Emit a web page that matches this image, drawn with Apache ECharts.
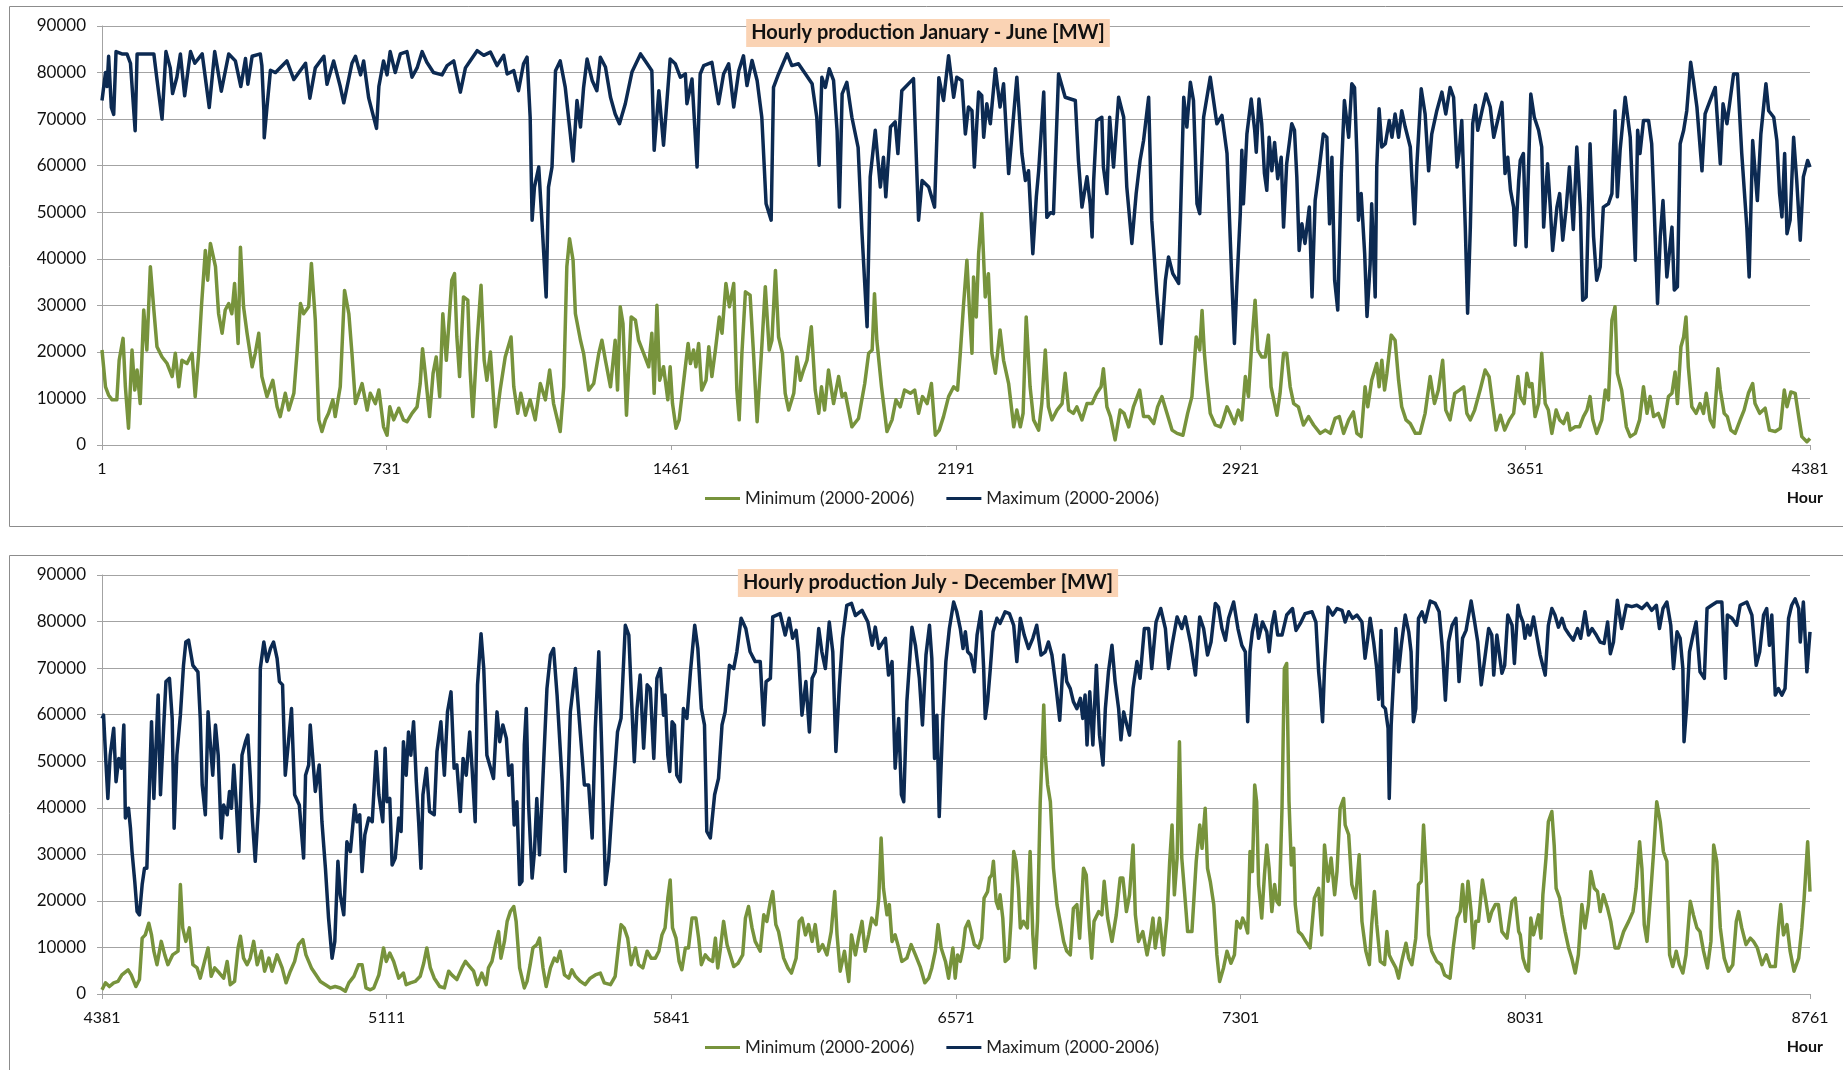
<!DOCTYPE html>
<html>
<head>
<meta charset="utf-8">
<script src="https://cdn.jsdelivr.net/npm/echarts@6/dist/echarts.min.js"></script>
<style>
html, body { margin: 0; padding: 0; background: #fff; }
#chart { width: 1843px; height: 1070px; }
</style>
</head>
<body>
<div id="chart"></div>
<script>
// Hourly production envelope 2000-2006, points as [hour of year, MW]

const minJanJun = [[1,20400],[10,12500],[18,10700],[27,9700],[39,9700],[45,18200],[55,22900],[61,12500],[69,3600],[78,20400],[85,11800],[91,16100],[99,8900],[108,29000],[116,20400],[125,38300],[134,29000],[142,21100],[155,18900],[168,17500],[181,14700],[189,19700],[198,12500],[206,18200],[219,17500],[232,19700],[240,10400],[249,19700],[256,29700],[266,41800],[272,35400],[279,43300],[292,38300],[300,28200],[309,24000],[317,29000],[326,30400],[334,28200],[341,34700],[350,21800],[356,42500],[364,29700],[373,24000],[386,16800],[394,19700],[403,24000],[411,14700],[424,10400],[439,13900],[450,8200],[458,6100],[471,11100],[480,7500],[493,11100],[501,19700],[510,30400],[518,28200],[531,29700],[538,39000],[548,26800],[557,5400],[565,2900],[574,5400],[582,6800],[593,9700],[599,6100],[612,12500],[623,33200],[634,28200],[642,19700],[651,8900],[668,13200],[681,7500],[689,11100],[702,8900],[711,11800],
[723,3900],[732,2100],[739,8200],[749,5400],[762,7900],[774,5400],[783,5000],[796,6800],[809,8200],[817,13200],[823,20700],[830,15400],[841,6100],[850,15400],[858,18900],[867,10400],[875,28200],[884,18200],[890,25400],[898,35400],[905,36800],[911,23200],[918,14700],[928,31800],[939,31100],[945,16100],[952,6100],[963,22500],[973,34300],[981,18200],[988,13900],[997,20000],[1010,3900],[1022,11800],[1035,18900],[1050,23200],[1057,12500],[1067,6800],[1075,11100],[1087,6400],[1099,9700],[1112,5400],[1125,13200],[1138,9700],[1149,16100],[1159,8900],[1176,2900],[1185,12500],[1193,38300],[1200,44300],[1209,39700],[1215,28200],[1228,22500],[1236,19700],[1249,11800],[1262,13200],[1275,19700],[1283,22500],[1292,18200],[1305,12500],[1317,22500],[1323,11800],[1330,29700],[1337,26100],[1346,6400],[1358,27500],[1369,26800],[1377,22500],[1390,19700],[1403,16800],[1411,24000],[1417,11100],[1424,30000],[1431,13900],[1441,16800],
[1452,9700],[1458,16800],[1464,8900],[1473,3600],[1481,5400],[1488,10400],[1495,15400],[1504,21800],[1510,17500],[1518,20400],[1524,16800],[1531,21800],[1539,11800],[1550,13900],[1557,21100],[1565,14700],[1574,20400],[1584,27500],[1591,24000],[1601,34700],[1610,29700],[1621,34700],[1629,11800],[1635,5400],[1642,19700],[1651,32900],[1663,32200],[1672,19300],[1681,5000],[1693,21100],[1702,34000],[1712,20400],[1719,22500],[1728,37500],[1736,23200],[1746,19700],[1753,11100],[1762,7500],[1775,11100],[1783,18900],[1792,13900],[1800,16100],[1809,18200],[1820,25400],[1830,11800],[1839,6800],[1846,12500],[1854,7500],[1864,16100],[1877,8900],[1890,14700],[1899,10400],[1907,11100],[1924,3900],[1941,5700],[1957,13200],[1967,19700],[1976,20400],[1982,32500],[1988,22500],[2000,12500],[2014,2900],[2027,5400],[2037,9700],[2048,8200],[2059,11800],[2074,11100],[2085,11800],[2095,6800],[2105,10400],[2117,8900],[2128,13200],[2138,2100],[2148,3200],[2159,6100],[2172,10400],
[2185,12500],[2195,11800],[2202,19700],[2210,29700],[2219,39700],[2226,28200],[2232,19700],[2236,36100],[2243,27500],[2249,41100],[2257,49700],[2266,31800],[2274,36800],[2283,19700],[2292,15400],[2304,24700],[2313,18200],[2326,13200],[2339,3900],[2347,7500],[2356,3900],[2363,6800],[2371,27500],[2381,12500],[2390,5400],[2403,3200],[2411,8900],[2420,20400],[2428,8200],[2437,5400],[2450,7500],[2463,8900],[2471,15400],[2480,7500],[2492,6800],[2501,8200],[2514,5400],[2527,8900],[2540,8900],[2552,11100],[2563,12500],[2569,16400],[2578,8200],[2587,6100],[2599,1100],[2612,7500],[2622,6800],[2634,3900],[2646,8200],[2662,11800],[2672,6100],[2685,6100],[2698,4600],[2708,8200],[2719,10400],[2732,6800],[2745,3200],[2758,2500],[2773,2100],[2785,6800],[2796,10400],[2807,23200],[2816,20400],[2822,28900],[2828,19700],[2834,13900],[2843,6800],[2856,4300],[2869,3900],[2876,5400],[2886,8200],[2894,6800],[2905,4600],
[2915,7500],[2924,5400],[2933,14700],[2941,10400],[2950,22500],[2958,31100],[2965,20400],[2975,18900],[2984,18900],[2992,23600],[2999,12500],[3014,6400],[3022,11100],[3031,19700],[3039,19700],[3048,12500],[3057,8900],[3069,8200],[3082,4300],[3095,6100],[3108,4300],[3125,2500],[3138,3200],[3151,2500],[3163,5700],[3174,6100],[3185,2500],[3198,5400],[3210,7100],[3219,2500],[3230,1800],[3240,12500],[3247,8200],[3257,13900],[3270,17500],[3276,12500],[3283,18200],[3290,11800],[3296,15400],[3307,23600],[3317,22500],[3326,13900],[3334,8200],[3345,5400],[3356,4600],[3369,2500],[3381,2500],[3394,6800],[3407,14700],[3418,8900],[3428,11800],[3439,18200],[3447,7500],[3458,5400],[3470,11100],[3482,11800],[3493,12500],[3501,6800],[3510,5400],[3521,7500],[3535,11800],[3548,16100],[3558,14700],[3567,8900],[3576,3200],[3587,6400],[3598,3200],[3610,5400],[3621,6800],[3632,14700],
[3638,10400],[3648,8900],[3655,15400],[3662,12500],[3668,13200],[3676,6100],[3685,8900],[3693,19700],[3702,8900],[3710,7500],[3719,2500],[3730,7500],[3739,5400],[3749,4600],[3759,6800],[3766,3200],[3779,3900],[3790,3900],[3800,6100],[3809,7500],[3817,10400],[3824,5400],[3834,2500],[3847,5400],[3856,11800],[3864,9700],[3873,26800],[3881,29700],[3887,15400],[3898,11800],[3910,3900],[3920,1800],[3933,2500],[3944,5400],[3954,12500],[3963,6800],[3971,10400],[3980,6100],[3992,6800],[4005,3900],[4018,10400],[4027,11100],[4035,15700],[4041,8900],[4050,21100],[4057,23200],[4063,27500],[4069,16800],[4078,8200],[4089,6800],[4099,8900],[4108,6800],[4115,11100],[4125,5400],[4134,3900],[4145,16400],[4151,11800],[4161,6800],[4169,6100],[4178,3200],[4189,2500],[4202,5400],[4212,7500],[4223,11100],[4234,13200],[4240,8900],[4252,6800],[4266,7900],[4277,3200],[4292,2900],[4305,3600],[4315,11800],[4322,8200],[4332,11400],[4343,11100],[4352,6100],[4360,1800],[4373,700],[4381,1400]];

const maxJanJun = [[1,74000],[10,80000],[14,77000],[18,83500],[25,72500],[31,71000],[37,84500],[52,84000],[65,84000],[74,82000],[86,67500],[91,84000],[121,84000],[134,84000],[142,78500],[155,70000],[165,84500],[176,81000],[182,75500],[193,79000],[202,84000],[213,75000],[228,84500],[239,82000],[258,84000],[276,72500],[290,84500],[307,76000],[326,84000],[343,82500],[357,77000],[369,83000],[375,77500],[386,83500],[407,84000],[411,81500],[416,72000],[417,66000],[424,72500],[433,80500],[446,80000],[475,82500],[493,78500],[523,82000],[534,74500],[548,81000],[570,83500],[578,77500],[595,82500],[612,77000],[621,73500],[642,82000],[651,83500],[664,79500],[672,82500],[685,74500],[705,68000],[711,77000],
[723,82500],[732,79500],[740,84500],[753,80000],[766,84000],[783,84500],[796,79000],[809,81000],[822,84500],[834,82200],[851,80000],[873,79500],[886,81500],[903,82500],[920,75800],[933,81000],[945,82500],[963,84700],[980,83700],[997,84400],[1014,81500],[1031,83700],[1040,79700],[1057,80400],[1069,76100],[1082,81900],[1091,83300],[1099,70400],[1104,48300],[1110,55400],[1121,59700],[1129,48300],[1140,31800],[1146,55400],[1155,59700],[1164,80400],[1176,82500],[1189,76800],[1202,66800],[1209,61000],[1219,74000],[1228,68300],[1236,76800],[1245,82900],[1258,78300],[1270,76100],[1279,83300],[1292,81200],[1305,74700],[1317,71100],[1328,69000],[1343,73300],[1360,80100],[1382,84000],[1399,81900],[1411,80400],[1417,63300],[1429,76100],[1441,64400],
[1458,82900],[1471,81900],[1484,79000],[1497,79700],[1501,73300],[1514,78600],[1527,59700],[1535,79700],[1544,81500],[1565,82200],[1582,73300],[1595,79700],[1608,81900],[1621,72600],[1634,80400],[1646,83600],[1655,77200],[1668,82600],[1681,78300],[1693,70400],[1704,51800],[1717,48300],[1723,76800],[1736,79700],[1758,84000],[1770,81500],[1787,81900],[1805,79700],[1822,77600],[1834,70400],[1840,60100],[1847,79000],[1856,76800],[1866,80800],[1877,78300],[1886,67600],[1892,51100],[1899,75400],[1911,77900],[1924,70400],[1940,63900],[1950,45400],[1963,25400],[1971,57600],[1984,67600],[1997,55400],[2005,61800],[2011,53300],[2023,68300],[2035,69400],[2042,62600],[2052,76100],[2082,78700],[2095,48300],[2104,56800],[2121,55400],[2136,51100],[2147,78900],[2159,74000],[2172,83600],
[2185,74700],[2193,79000],[2206,78300],[2215,66800],[2223,72600],[2232,71800],[2238,59700],[2249,75800],[2257,75100],[2262,66100],[2270,73300],[2279,69000],[2292,80800],[2304,72600],[2313,77600],[2326,58300],[2334,66100],[2347,79000],[2360,62600],[2369,56800],[2377,58900],[2388,41100],[2397,53300],[2403,58900],[2416,75800],[2424,48900],[2433,49900],[2441,49700],[2454,79700],[2471,74700],[2497,74000],[2505,61100],[2514,51100],[2527,57600],[2535,51800],[2540,44700],[2544,56800],[2552,69700],[2565,70400],[2569,59700],[2578,54000],[2585,70400],[2595,59700],[2608,74700],[2621,70400],[2629,55400],[2642,43300],[2653,54000],[2663,61100],[2672,65400],[2685,74700],[2693,48300],[2706,32500],[2717,21800],[2728,35400],[2736,40400],[2747,36800],[2762,34700],[2775,74700],[2783,68300],[2792,77900],[2800,74000],[2809,51800],[2816,49700],[2826,70400],[2843,79000],[2860,69000],[2873,70800],[2886,62600],[2899,34000],[2905,21800],
[2911,34000],[2920,49700],[2924,63300],[2928,51800],[2937,66800],[2948,74300],[2957,67600],[2961,62900],[2968,74300],[2975,69000],[2982,58300],[2988,54700],[2994,66100],[3001,58900],[3008,65000],[3016,57200],[3025,61800],[3031,46800],[3039,60400],[3052,69000],[3059,67600],[3065,57600],[3071,41800],[3078,47500],[3086,43300],[3097,51100],[3104,31800],[3112,52500],[3121,58300],[3133,66800],[3142,66100],[3149,47500],[3155,61800],[3162,35400],[3170,29000],[3179,58300],[3187,74000],[3198,66100],[3206,77600],[3213,76800],[3219,62600],[3223,48300],[3230,54000],[3239,41100],[3245,27600],[3253,38800],[3257,51800],[3266,31800],[3270,59700],[3276,72200],[3283,64000],[3292,64700],[3302,69700],[3309,66100],[3317,71100],[3326,66100],[3334,71800],[3343,68300],[3356,64000],[3360,57600],[3367,47500],[3373,60400],[3384,76500],[3394,71100],[3403,58900],[3411,66800],[3424,71800],[3437,75800],[3447,71100],[3458,76800],[3467,74700],[3476,59700],[3481,62600],[3488,69700],[3497,46800],[3503,28300],[3510,46800],[3516,69000],[3523,73000],[3529,67600],[3540,71800],[3550,75400],[3561,72600],[3570,66100],[3582,70400],[3591,73600],[3599,58300],[3606,61800],[3613,54700],[3621,51100],[3625,42900],[3634,56800],
[3638,61100],[3646,62600],[3653,42600],[3659,58900],[3665,75400],[3674,70400],[3685,67600],[3693,64000],[3698,46800],[3708,60400],[3715,51100],[3721,41800],[3732,51100],[3739,54000],[3747,44000],[3756,51100],[3764,59700],[3774,46300],[3783,64000],[3792,51100],[3798,31100],[3807,31800],[3817,64700],[3826,44700],[3834,35400],[3843,38300],[3851,51100],[3864,51800],[3873,54000],[3881,71800],[3887,53300],[3894,63300],[3907,74700],[3920,66100],[3933,39700],[3939,67600],[3945,62600],[3954,69700],[3967,69700],[3975,64700],[3981,51800],[3990,30400],[3997,44700],[4004,52500],[4014,36100],[4027,46800],[4033,33300],[4041,34000],[4048,64700],[4057,67600],[4065,71800],[4075,82200],[4082,78300],[4091,72600],[4104,58900],[4112,71100],[4125,74000],[4138,76800],[4151,60400],[4158,73300],[4168,69000],[4185,79700],[4195,79700],[4206,62600],[4219,46800],[4225,36100],[4234,65400],[4246,52500],[4255,66800],[4268,77600],[4275,71800],[4288,70400],[4296,65400],[4303,54000],[4309,49000],[4316,62600],[4322,45400],[4330,48300],[4339,66100],[4347,56800],[4356,44000],[4364,57600],[4375,61100],[4381,59700]];

const minJulDec = [[4381,900],[4390,2400],[4400,1600],[4411,2400],[4422,2700],[4432,4100],[4448,5200],[4456,4100],[4468,1600],[4477,3100],[4484,12000],[4492,12700],[4501,15200],[4508,12700],[4514,9200],[4522,6300],[4533,11300],[4542,8400],[4550,6300],[4562,8400],[4576,9200],[4582,23500],[4588,14200],[4596,11300],[4605,14200],[4614,6300],[4625,5600],[4633,3400],[4644,7000],[4653,9900],[4661,3800],[4670,5600],[4682,4500],[4693,3400],[4702,7000],[4710,2000],[4721,2700],[4730,9900],[4736,12400],[4744,7700],[4753,6300],[4761,7700],[4770,11300],[4779,6300],[4790,9200],[4798,4900],[4809,7700],[4817,4900],[4830,8400],[4843,5600],[4853,2400],[4864,4900],[4875,7000],[4885,10600],[4896,11700],[4904,8400],[4918,5600],[4930,4100],[4941,2700],[4954,2000],[4967,1300],[4979,1600],[4992,1300],[5005,600],[5014,2400],[5027,3800],[5039,6300],[5048,6300],[5058,1300],[5069,900],[5078,1300],[5091,4100],
[5103,9900],[5110,7000],[5119,8800],[5129,7000],[5142,3400],[5154,4500],[5161,2000],[5172,2400],[5184,2700],[5197,3800],[5206,6600],[5214,9900],[5223,5600],[5233,3400],[5247,1600],[5259,1300],[5270,4900],[5278,4100],[5291,3100],[5304,5600],[5313,7000],[5324,5900],[5334,4900],[5344,2000],[5355,4500],[5366,2000],[5372,5600],[5381,7000],[5390,10600],[5398,13400],[5404,7700],[5413,11300],[5420,15600],[5428,17700],[5437,18800],[5443,15600],[5452,5600],[5464,1300],[5471,2700],[5479,6300],[5486,9900],[5496,10600],[5503,12000],[5512,5600],[5520,1600],[5531,5600],[5541,7700],[5548,7000],[5556,9200],[5567,4100],[5578,3400],[5586,5200],[5595,3800],[5608,2700],[5620,2000],[5633,3400],[5646,4100],[5659,4500],[5669,2400],[5685,2000],[5697,3800],[5706,10600],[5712,14900],[5720,14200],[5729,12000],[5738,6300],[5749,9900],[5757,6300],[5768,5600],[5779,9200],[5789,7700],[5800,7700],[5809,9200],[5817,12700],
[5825,14200],[5832,20600],[5838,24500],[5844,14200],[5853,12000],[5861,7000],[5868,5200],[5877,9900],[5885,9900],[5894,16300],[5904,16300],[5911,12000],[5918,6300],[5928,8400],[5938,7400],[5947,7000],[5954,12000],[5960,5600],[5966,9200],[5975,15600],[5984,10600],[5992,8400],[6001,5900],[6012,6600],[6024,8400],[6031,16300],[6039,18800],[6048,14200],[6056,11300],[6069,9200],[6078,17000],[6086,15600],[6095,19900],[6101,22000],[6109,14900],[6116,13400],[6129,7700],[6140,5600],[6149,4500],[6161,7700],[6169,15600],[6176,16300],[6185,12700],[6193,14900],[6202,11300],[6210,14900],[6219,9200],[6229,10600],[6240,8400],[6251,13400],[6260,22000],[6266,12700],[6274,4900],[6285,9200],[6296,2700],[6303,12700],[6313,8400],[6321,12000],[6330,15600],[6338,9200],[6347,12700],[6355,16300],[6366,14900],[6373,20600],[6379,33500],[6385,22700],[6394,17000],[6400,19200],[6407,11300],[6415,12700],[6424,9900],[6432,7000],[6445,7700],[6456,10600],[6467,8400],[6479,5900],[6491,2400],[6501,3400],[6509,5600],[6518,9200],[6525,14900],[6533,9900],[6544,7000],[6552,3400],
[6563,9900],[6569,3400],[6575,8400],[6582,7000],[6589,9900],[6595,14200],[6603,15600],[6612,12700],[6618,10600],[6629,9900],[6637,12000],[6643,20600],[6652,22000],[6657,24900],[6663,25600],[6667,28500],[6674,19900],[6680,18400],[6684,21300],[6691,16300],[6697,7000],[6706,7700],[6712,15600],[6719,30600],[6725,28500],[6731,22700],[6736,14200],[6744,15600],[6754,14200],[6761,30600],[6768,12700],[6774,5600],[6780,15600],[6787,41300],[6791,49900],[6796,62100],[6800,51300],[6806,44900],[6813,41300],[6821,27000],[6830,19200],[6838,15600],[6847,11300],[6855,9200],[6864,8400],[6872,18400],[6881,19200],[6888,12000],[6898,27000],[6905,25600],[6913,14200],[6919,7700],[6925,15600],[6937,17700],[6945,17000],[6951,24200],[6960,16300],[6971,11300],[6982,17000],[6992,24900],[6999,24900],[7008,17700],[7016,21300],[7025,32000],[7031,17000],[7039,11300],[7050,13400],[7061,8400],[7069,12000],[7076,16300],[7082,9900],[7093,16300],[7103,8400],[7112,16300],[7119,28500],[7125,36300],[7131,21300],[7138,29200],[7144,54200],[7150,29200],[7159,19900],[7165,13400],[7176,13400],[7187,28500],[7196,36300],[7202,31300],[7210,39900],[7216,27000],[7223,24200],[7232,19200],[7240,8400],[7247,2700],[7257,5600],[7266,9200],[7276,6600],[7285,8400],
[7291,15600],[7300,14200],[7306,16300],[7313,14900],[7319,13100],[7325,30600],[7331,26300],[7337,44900],[7342,41300],[7347,23500],[7355,16300],[7362,25600],[7368,32000],[7374,27000],[7381,17700],[7388,23500],[7394,19900],[7400,19200],[7407,39900],[7413,69900],[7419,71000],[7425,41300],[7431,27700],[7437,31300],[7441,19200],[7449,13400],[7458,12700],[7468,11300],[7479,9900],[7490,20600],[7501,22700],[7509,12700],[7516,32000],[7525,24200],[7533,29200],[7542,21300],[7548,26300],[7556,39900],[7565,42000],[7569,36300],[7578,34200],[7586,23500],[7596,20600],[7605,29900],[7612,15600],[7622,9200],[7631,6300],[7637,14900],[7644,22000],[7650,14900],[7659,7000],[7670,6300],[7676,13400],[7682,8400],[7690,7000],[7699,5600],[7706,3400],[7714,7000],[7725,10900],[7732,7700],[7740,6300],[7750,12000],[7757,23500],[7764,24200],[7770,36300],[7776,27000],[7783,12700],[7791,9200],[7804,7000],[7815,6300],[7824,4100],[7838,3400],[7847,10600],[7856,16300],[7864,17700],[7870,23500],[7877,15600],[7884,24200],[7892,17700],[7898,9900],[7904,15600],[7911,15600],[7921,24500],[7930,19900],[7938,15600],[7945,17700],[7954,19200],[7962,19200],[7971,13400],[7984,12000],[7997,19900],[8005,20600],[8014,13400],
[8018,12700],[8025,7700],[8033,5600],[8039,4900],[8045,16300],[8052,12700],[8059,14900],[8065,17000],[8071,12000],[8076,21300],[8084,29200],[8090,37000],[8099,39200],[8105,32000],[8110,22700],[8119,20600],[8125,17000],[8133,13400],[8142,9900],[8150,7700],[8159,4500],[8167,8400],[8176,19200],[8184,14200],[8193,19200],[8199,26300],[8208,22700],[8216,22000],[8223,17700],[8231,21300],[8242,18400],[8250,15600],[8261,9900],[8270,9900],[8283,13400],[8296,15600],[8307,17700],[8315,22700],[8324,32700],[8330,27000],[8336,14900],[8343,11300],[8351,19900],[8360,30600],[8368,41300],[8377,37000],[8385,30600],[8394,28500],[8401,8400],[8409,5900],[8418,9200],[8426,6300],[8435,4500],[8443,8400],[8454,19900],[8462,17000],[8471,14200],[8479,13400],[8488,9200],[8498,5600],[8507,11300],[8514,32000],[8522,28500],[8531,14200],[8541,7700],[8552,4900],[8563,6300],[8572,15600],[8578,17700],[8586,14200],[8597,10600],[8608,12000],[8616,11300],[8626,9900],[8638,6300],[8649,8400],[8659,5900],[8672,5900],[8680,14200],[8686,19200],[8693,12700],[8702,14900],[8710,9200],[8720,4900],[8732,7700],[8740,14200],[8746,20600],[8755,32700],[8761,22000]];

const maxJulDec = [[4381,59200],[4385,59900],[4391,49900],[4396,42000],[4402,51300],[4411,57100],[4417,45600],[4424,50600],[4431,48500],[4437,57800],[4441,37800],[4449,39900],[4454,35600],[4458,30600],[4465,24200],[4471,17700],[4477,17000],[4484,23500],[4490,27000],[4496,27000],[4502,42800],[4508,58500],[4514,42000],[4520,54200],[4525,64200],[4531,42800],[4539,57100],[4545,67100],[4554,67800],[4561,59200],[4566,35600],[4573,51300],[4582,59900],[4590,70600],[4596,75600],[4603,76000],[4614,70600],[4627,69200],[4633,59200],[4638,44900],[4646,38500],[4653,60600],[4659,53500],[4665,47000],[4672,57800],[4679,51300],[4687,33500],[4693,40600],[4702,38500],[4708,43500],[4713,39900],[4719,49200],[4725,41300],[4732,30600],[4740,51300],[4749,54200],[4755,55600],[4761,47000],[4767,37000],[4774,28500],[4783,41300],[4787,69900],[4796,75600],[4804,71400],[4813,74200],[4821,75600],[4830,72100],[4836,67100],[4844,66400],[4851,47000],[4860,54900],[4867,61300],[4875,42800],[4887,40600],[4898,29200],[4903,47000],[4911,49200],[4915,57800],[4921,51300],[4928,43500],[4938,49200],[4945,37000],[4954,27000],[4962,16300],[4971,7700],[4978,11300],[4986,28500],[4992,21300],[5001,17000],[5009,32700],[5018,30600],[5029,40600],[5035,37000],[5042,38500],[5048,26300],[5055,34200],[5065,37800],[5074,37000],[5084,52100],[5091,42800],
[5101,37000],[5107,52800],[5112,41300],[5119,42000],[5125,27700],[5133,29200],[5142,37800],[5148,34900],[5154,54200],[5161,47000],[5167,56300],[5173,51300],[5180,58500],[5187,45600],[5193,37000],[5199,27000],[5204,42800],[5213,48500],[5221,39200],[5233,38500],[5240,52100],[5250,58500],[5259,47000],[5267,60600],[5276,64900],[5284,48500],[5291,49200],[5300,39200],[5307,50600],[5315,47000],[5324,56300],[5330,48500],[5338,37000],[5344,66400],[5353,77400],[5360,69900],[5368,51300],[5385,46300],[5394,60600],[5401,54200],[5409,57800],[5418,54900],[5424,47000],[5432,49200],[5438,36300],[5445,41300],[5452,23500],[5458,24200],[5464,53500],[5469,61300],[5475,40600],[5484,24900],[5490,30600],[5496,42000],[5503,29900],[5514,50600],[5522,65600],[5531,72800],[5539,74200],[5548,64200],[5561,45600],[5569,26300],[5582,60600],[5595,69900],[5608,55600],[5618,44900],[5629,44900],[5638,33500],[5646,57100],[5655,73500],[5663,51300],[5672,23500],[5680,28500],[5689,39900],[5703,56300],[5712,59200],[5723,79200],[5732,77100],[5740,61300],[5746,49900],[5753,61300],[5761,68500],[5770,52800],[5779,66400],[5787,65600],[5796,50600],[5804,67800],[5813,69900],[5821,59900],
[5825,64200],[5832,51300],[5837,47800],[5843,58500],[5849,57800],[5855,47000],[5864,45600],[5872,61300],[5881,59200],[5890,69200],[5901,79200],[5909,74200],[5918,61300],[5926,57800],[5932,34900],[5941,33500],[5952,42800],[5962,46300],[5971,57800],[5979,60600],[5990,70600],[6001,69900],[6009,73500],[6020,80700],[6032,78500],[6043,73500],[6056,71400],[6069,71400],[6078,57800],[6084,67100],[6095,67800],[6101,81000],[6120,81700],[6133,77100],[6143,80700],[6152,76400],[6161,78100],[6167,73500],[6176,59900],[6186,67100],[6195,56300],[6202,67800],[6210,69200],[6219,78500],[6227,73500],[6236,69900],[6246,79900],[6255,73500],[6263,52100],[6272,66400],[6280,76400],[6291,83500],[6303,83900],[6313,81300],[6330,82400],[6345,79900],[6356,74900],[6364,78800],[6373,74200],[6390,76400],[6398,68500],[6407,71400],[6415,48500],[6424,59200],[6431,42800],[6437,41300],[6445,62800],[6458,78800],[6467,74900],[6477,67800],[6485,57800],[6494,72800],[6503,79200],[6509,72100],[6516,50600],[6522,59900],[6528,38100],[6537,58500],[6545,71400],[6554,78500],
[6565,84200],[6573,82100],[6582,78500],[6589,74200],[6595,77800],[6601,73500],[6609,72800],[6618,69200],[6625,77100],[6635,82100],[6642,69900],[6646,59200],[6652,62800],[6659,69900],[6666,77800],[6676,80700],[6684,79600],[6697,82100],[6708,81700],[6719,79200],[6727,71400],[6736,80700],[6746,77100],[6757,74200],[6768,76400],[6778,79200],[6789,72800],[6800,73500],[6808,75600],[6817,72800],[6828,65600],[6837,58800],[6847,72800],[6855,67100],[6864,65600],[6872,62800],[6881,61300],[6890,63500],[6896,59200],[6902,64200],[6907,53500],[6914,64900],[6922,53500],[6931,70600],[6939,55600],[6948,49200],[6954,61300],[6962,69200],[6971,74900],[6979,67100],[6988,61300],[6994,54600],[7001,60600],[7009,57800],[7016,55600],[7025,65600],[7035,71400],[7043,67800],[7054,78500],[7065,78500],[7073,69900],[7084,79900],[7096,82800],[7108,78500],[7116,69900],[7125,74900],[7138,81000],[7150,78500],[7159,81000],[7172,75600],[7185,68500],[7196,81000],[7206,78500],[7216,72800],[7225,75600],[7236,83900],[7244,83100],[7253,78500],[7262,76000],[7270,80700],[7283,84200],
[7294,78500],[7304,74900],[7313,73500],[7319,58500],[7325,73500],[7331,77800],[7340,81400],[7347,76400],[7357,79900],[7368,77800],[7374,73500],[7381,79200],[7388,82100],[7396,77100],[7407,77100],[7419,81400],[7434,82800],[7443,78100],[7454,79600],[7466,81700],[7484,82100],[7494,79900],[7501,69200],[7505,65600],[7511,58500],[7516,69900],[7525,83100],[7537,81400],[7548,82800],[7561,82400],[7569,79900],[7578,82100],[7588,80700],[7599,81400],[7612,79900],[7620,72100],[7627,76400],[7633,80700],[7642,75600],[7650,69900],[7655,63300],[7661,78100],[7665,61900],[7672,61300],[7679,57100],[7682,42000],[7687,57800],[7693,67800],[7699,78500],[7706,69200],[7713,74900],[7723,81400],[7732,77800],[7738,73500],[7744,58500],[7750,61300],[7757,80700],[7766,82100],[7774,79900],[7787,84400],[7800,83900],[7810,82100],[7819,73500],[7826,63100],[7834,75600],[7843,79200],[7853,80700],[7861,67100],[7870,76400],[7879,78100],[7892,84400],[7901,79900],[7909,75600],[7918,66400],[7926,71400],[7937,78500],[7945,77100],[7950,68500],[7958,77100],[7971,68900],[7978,70600],[7986,81400],[7997,79200],[8003,71000],[8012,83500],
[8018,81400],[8025,79900],[8030,76400],[8037,79200],[8043,77100],[8052,81000],[8060,77100],[8069,72800],[8082,68500],[8090,79200],[8099,82800],[8107,81400],[8116,78800],[8125,80700],[8133,78500],[8144,77100],[8154,76000],[8165,78500],[8173,76400],[8184,82100],[8193,77100],[8202,78500],[8213,77100],[8223,75600],[8233,75300],[8242,79900],[8249,73100],[8257,75600],[8267,84600],[8278,78500],[8290,83500],[8304,83200],[8317,83500],[8330,82800],[8343,83900],[8355,82400],[8367,83500],[8375,78500],[8384,82800],[8394,84200],[8404,79200],[8411,69900],[8420,77800],[8428,76400],[8435,69900],[8438,54200],[8445,62100],[8452,73500],[8461,77100],[8469,79900],[8479,69200],[8490,67800],[8497,82800],[8509,83500],[8522,84200],[8535,84200],[8544,67800],[8549,81400],[8561,80700],[8573,79200],[8582,83500],[8599,84200],[8612,81400],[8623,70600],[8632,73500],[8642,81400],[8650,82800],[8657,74900],[8663,81400],[8672,64200],[8680,65600],[8689,64200],[8697,65600],[8706,80700],[8714,83500],[8723,84900],[8732,82800],[8736,75600],[8744,84200],[8753,69200],[8761,77800]];

const seriesNames = ['Minimum (2000-2006)', 'Maximum (2000-2006)'];
const panelTitles = ['Hourly production January - June [MW]', 'Hourly production July - December [MW]'];
const axisTitle = 'Hour';
const halfYearHours = 4380;   // hours covered by each panel
const hourStep = 730;         // spacing of the hour ticks
const mwMax = 90000;
const mwStep = 10000;

const GREEN = '#77933C';
const NAVY = '#0C2A52';
const GRID_GREY = '#A3A3A3';
const FONT = 'Lato, "Open Sans", "Liberation Sans", sans-serif';

// The axis runs on (hour - 1) so that the ticks fall on multiples of 730
// and are labelled 1, 731, 1461, ...
const toAxis = pts => pts.map(([h, v]) => [h - 1, v]);

const grids = [
  { left: 102, top: 26, width: 1708, height: 419 },
  { left: 102, top: 575, width: 1708, height: 419 }
];

function xAxisFor(gridIndex, start) {
  return {
    type: 'value', gridIndex,
    min: start, max: start + halfYearHours, interval: hourStep,
    axisLine: { show: true, onZero: false, lineStyle: { color: GRID_GREY, width: 1 } },
    axisTick: { show: true, length: 5, lineStyle: { color: GRID_GREY } },
    axisLabel: { formatter: v => String(v + 1), color: '#111', fontFamily: FONT, fontSize: 16, margin: 16 },
    splitLine: { show: false }
  };
}

function yAxisFor(gridIndex) {
  return {
    type: 'value', gridIndex, min: 0, max: mwMax, interval: mwStep,
    axisLine: { show: true, lineStyle: { color: GRID_GREY, width: 1 } },
    axisTick: { show: true, length: 5, lineStyle: { color: GRID_GREY } },
    axisLabel: { formatter: v => String(v), color: '#111', fontFamily: FONT, fontSize: 17, margin: 16 },
    splitLine: { show: true, lineStyle: { color: GRID_GREY, width: 1 } }
  };
}

function lineSeries(name, color, data, idx) {
  return {
    name, type: 'line', xAxisIndex: idx, yAxisIndex: idx,
    data: toAxis(data), color,
    showSymbol: false, symbol: 'none',
    lineStyle: { color, width: 3.5, join: 'round' },
    emphasis: { disabled: true },
    animation: false
  };
}

// "Hour" caption below the right end of each hour axis
function hourCaption(grid) {
  return {
    type: 'text', silent: true,
    x: grid.left + grid.width + 13, y: grid.top + grid.height + 53,
    style: {
      text: axisTitle, align: 'right', verticalAlign: 'middle',
      font: 'bold 16px ' + FONT, fill: '#111'
    }
  };
}

const chart = echarts.init(document.getElementById('chart'), null, { renderer: 'canvas' });

chart.setOption({
  backgroundColor: '#ffffff',
  animation: false,
  title: panelTitles.map((text, i) => ({
    text, left: 923, top: i ? 569 : 19, textAlign: 'center',
    backgroundColor: '#FAD3B4', padding: [4, 5],
    textStyle: { fontFamily: FONT, fontSize: 20, fontWeight: 'bold', color: '#111' }
  })),
  legend: [0, 1].map(i => ({
    data: seriesNames, left: 705, top: i ? 1039 : 490, padding: 0,
    itemGap: 32, itemWidth: 35, itemHeight: 3, itemTextGap: 5, icon: 'rect',
    selectedMode: false,
    textStyle: { fontFamily: FONT, fontSize: 17, color: '#222' }
  })),
  grid: grids,
  xAxis: [xAxisFor(0, 0), xAxisFor(1, halfYearHours)],
  yAxis: [yAxisFor(0), yAxisFor(1)],
  series: [
    lineSeries(seriesNames[0], GREEN, minJanJun, 0),
    lineSeries(seriesNames[1], NAVY, maxJanJun, 0),
    lineSeries(seriesNames[0], GREEN, minJulDec, 1),
    lineSeries(seriesNames[1], NAVY, maxJulDec, 1)
  ],
  graphic: [
    { type: 'rect', silent: true, z: -1,
      shape: { x: 9.5, y: 6.5, width: 1850, height: 520 },
      style: { fill: 'none', stroke: '#8C8C8C', lineWidth: 1 } },
    { type: 'rect', silent: true, z: -1,
      shape: { x: 9.5, y: 555.5, width: 1850, height: 600 },
      style: { fill: 'none', stroke: '#8C8C8C', lineWidth: 1 } },
    hourCaption(grids[0]),
    hourCaption(grids[1])
  ]
});
</script>
</body>
</html>
